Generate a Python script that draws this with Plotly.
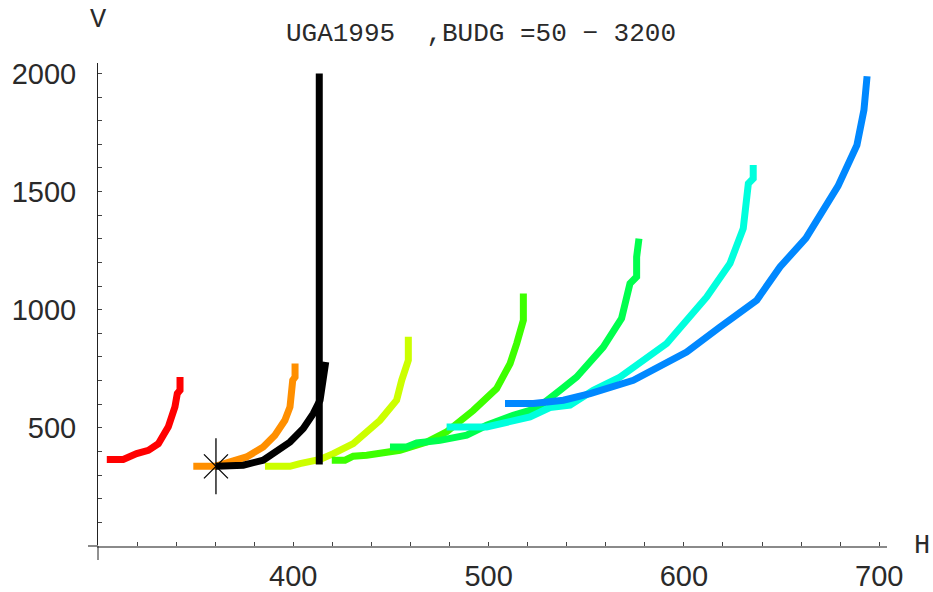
import plotly.graph_objects as go

# ---- data ----
red_h = [304.5, 312.9, 319.8, 325.8, 330.9, 336.0, 339.4, 340.6, 342.0, 342.0]
red_v = [366, 366, 391, 405, 433, 504, 589, 645, 659, 715]

orange_h = [348.8, 359.9, 369.3, 376.1, 384.6, 390.6, 395.7, 398.3, 399.7, 400.9, 400.9]
orange_v = [337, 337, 360, 377, 419, 469, 532, 588, 701, 715, 772]

yellow_h = [385.5, 398.3, 403.4, 413.7, 420.5, 430.7, 444.4, 452.9, 455.5, 458.9, 458.9]
yellow_v = [337, 337, 349, 366, 391, 433, 532, 617, 701, 786, 885]

green1_h = [419.7, 426.5, 430.7, 437.6, 454.6, 468.3, 478.5, 492.2, 504.1, 511.0, 514.4, 517.8, 517.8]
green1_v = [363, 363, 380, 384, 405, 440, 483, 574, 666, 772, 857, 955, 1069]

green2_h = [449.5, 458.0, 463.2, 475.1, 488.8, 499.0, 512.6, 524.6, 536.6, 545.1, 558.7,
            568.1, 572.4, 575.8, 575.8, 577.0]
green2_v = [419, 419, 436, 447, 469, 511, 553, 582, 659, 715, 842, 963, 1111, 1139, 1223, 1301]

cyan_h = [478.5, 499.0, 521.2, 531.4, 541.7, 553.6, 567.3, 591.2, 611.7, 623.6, 630.4,
          633.0, 635.5, 635.5]
cyan_v = [504, 504, 546, 586, 596, 659, 715, 857, 1054, 1196, 1344, 1534, 1555, 1612]

blue_h = [508.4, 522.9, 538.3, 552.0, 574.1, 601.4, 618.5, 637.3, 649.2, 662.5, 678.9,
          688.6, 692.2, 693.2, 693.8]
blue_v = [603, 603, 617, 645, 701, 821, 927, 1040, 1181, 1303, 1523, 1696, 1845, 1908, 1988]

black_h = [360.4, 374.4, 384.6, 391.5, 398.3, 405.1, 410.2, 413.7, 415.0, 416.2, 416.6]
black_v = [337, 342, 363, 405, 440, 497, 560, 617, 673, 730, 779]

vline_h = [413.3, 413.3]
vline_v = [345, 2000]

star_h = [360.4]
star_v = [337]

x_ticks = [400, 500, 600, 700]
y_ticks = [500, 1000, 1500, 2000]

title_text = "UGA1995  ,BUDG =50 \u2212 3200"

series = [
    (red_h, red_v, "#ff0000"),
    (orange_h, orange_v, "#ff8f00"),
    (yellow_h, yellow_v, "#ccff00"),
    (green1_h, green1_v, "#3dff00"),
    (green2_h, green2_v, "#00ff4d"),
    (cyan_h, cyan_v, "#00ffdd"),
    (blue_h, blue_v, "#0088ff"),
    (black_h, black_v, "#000000"),
    (vline_h, vline_v, "#000000"),
]

fig = go.Figure()
for h, v, c in series:
    fig.add_trace(go.Scatter(x=h, y=v, mode="lines",
                             line=dict(color=c, width=7),
                             showlegend=False, hoverinfo="skip"))

fig.add_trace(go.Scatter(x=star_h, y=star_v, mode="markers",
                         marker=dict(symbol="line-ns-open", size=40, color="black",
                                     line=dict(color="black", width=1.3)),
                         showlegend=False, hoverinfo="skip"))
fig.add_trace(go.Scatter(x=star_h, y=star_v, mode="markers",
                         marker=dict(symbol="x-thin-open", size=24, color="black",
                                     line=dict(color="black", width=1.3)),
                         showlegend=False, hoverinfo="skip"))

tickfont = dict(family="Liberation Sans", size=29, color="#2a2a2a")
labfont = dict(family="Liberation Mono", size=26, color="#2a2a2a")

fig.update_layout(
    width=933, height=592,
    margin=dict(l=98, r=46, t=63, b=46),
    paper_bgcolor="white", plot_bgcolor="white",
    title=dict(text=title_text, font=labfont, xref="container", yref="container",
               x=481 / 933, y=1 - 32 / 592, xanchor="center", yanchor="middle"),
    xaxis=dict(range=[300, 704], tickmode="array", tickvals=x_ticks, automargin=False,
               ticks="inside", ticklen=4, tickcolor="#444", tickwidth=1,
               showline=True, linecolor="#8a8a8a", linewidth=2,
               showgrid=False, zeroline=False, tickfont=tickfont,
               ticklabelstandoff=3,
               minor=dict(tickmode="linear", tick0=0, dtick=20, ticks="inside",
                          ticklen=4, tickcolor="#444", tickwidth=1, showgrid=False)),
    yaxis=dict(range=[0, 2044], tickmode="array", tickvals=y_ticks, automargin=False,
               ticks="inside", ticklen=4, tickcolor="#444", tickwidth=1,
               showline=True, linecolor="#222", linewidth=1,
               showgrid=False, zeroline=False, tickfont=tickfont,
               ticklabelstandoff=15,
               minor=dict(tickmode="linear", tick0=0, dtick=100, ticks="inside",
                          ticklen=4, tickcolor="#444", tickwidth=1, showgrid=False)),
    annotations=[
        dict(text="V", xref="paper", yref="paper", x=0.0, y=(546 - 20) / 483,
             showarrow=False, font=dict(family="Liberation Mono", size=27, color="#2a2a2a"),
             xanchor="center", yanchor="middle"),
        dict(text="H", xref="paper", yref="paper", x=(922 - 98) / 789, y=0.0,
             showarrow=False, font=dict(family="Liberation Mono", size=27, color="#2a2a2a"),
             xanchor="center", yanchor="middle"),
    ],
    shapes=[
        dict(type="line", xref="paper", yref="paper", x0=-10 / 789, x1=0, y0=0, y1=0,
             line=dict(color="#8a8a8a", width=2)),
        dict(type="line", xref="paper", yref="paper", x0=0, x1=0, y0=-14 / 483, y1=0,
             line=dict(color="#222", width=1)),
    ],
)

fig.write_html("out.html")
